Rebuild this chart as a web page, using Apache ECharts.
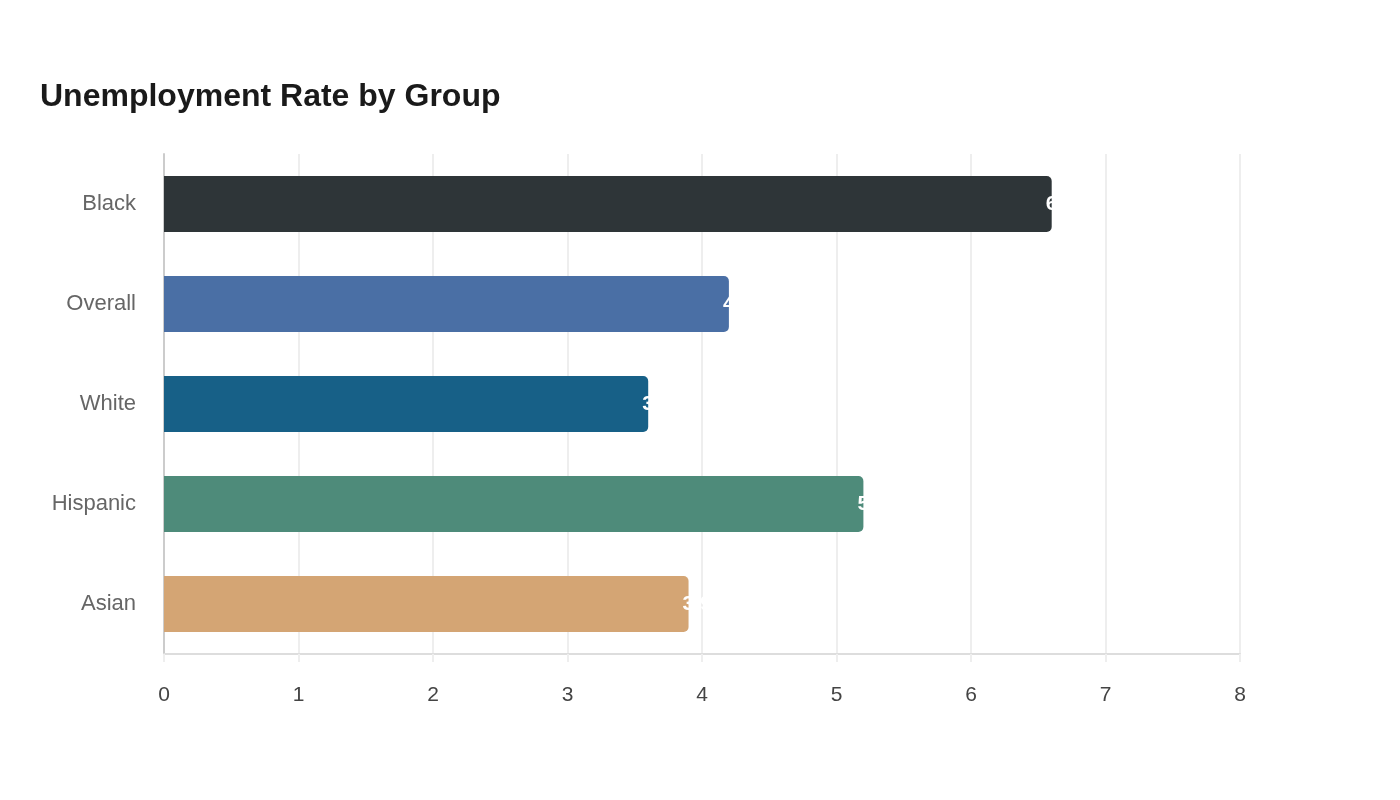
<!DOCTYPE html>
<html>
<head>
<meta charset="utf-8">
<script src="https://cdn.jsdelivr.net/npm/echarts@6/dist/echarts.min.js"></script>
<style>html,body{margin:0;padding:0;background:#fff}#c{width:1400px;height:800px}</style>
</head>
<body>
<div id="c"></div>
<script>
var categories = ["Black", "Overall", "White", "Hispanic", "Asian"];
var values = [6.6, 4.2, 3.6, 5.2, 3.9];
var colors = ["#2e3538", "#4a6fa5", "#176087", "#4e8b7a", "#d4a574"];
var xTicks = [0, 1, 2, 3, 4, 5, 6, 7, 8];

var chart = echarts.init(document.getElementById('c'), null, {renderer: 'canvas'});
chart.setOption({
  animation: false,
  backgroundColor: '#ffffff',
  title: {
    text: 'Unemployment Rate by Group',
    left: 35, top: 76,
    textStyle: {fontFamily: 'Liberation Sans, Arial, sans-serif', fontSize: 32, fontWeight: 'bold', color: '#1a1a1a'}
  },
  grid: {left: 164, right: 160, top: 154, bottom: 146, containLabel: false},
  xAxis: {
    type: 'value', min: xTicks[0], max: xTicks[xTicks.length - 1], interval: 1,
    axisLine: {show: true, lineStyle: {color: '#dddddd', width: 2}},
    axisTick: {show: true, length: 8, lineStyle: {color: '#eeeeee', width: 2}},
    splitLine: {show: true, lineStyle: {color: '#eeeeee', width: 2}},
    axisLabel: {margin: 31, fontFamily: 'Liberation Sans, Arial, sans-serif', fontSize: 21, color: '#444444'}
  },
  yAxis: {
    type: 'category', data: categories, inverse: true,
    axisLine: {show: true, lineStyle: {color: '#cccccc', width: 2}},
    axisTick: {show: false},
    axisLabel: {margin: 28, fontFamily: 'Liberation Sans, Arial, sans-serif', fontSize: 22, color: '#666666'}
  },
  series: [{
    type: 'bar',
    barWidth: '56%',
    data: values.map(function (v, i) {
      return {value: v, itemStyle: {color: colors[i], borderRadius: [0, 5, 5, 0]}};
    }),
    label: {
      show: true, position: 'insideRight', distance: 6, align: 'left',
      formatter: function (p) { return p.value + '%'; },
      color: '#ffffff', fontWeight: 'bold', fontSize: 21,
      fontFamily: 'Liberation Sans, Arial, sans-serif'
    }
  }]
});
</script>
</body>
</html>
